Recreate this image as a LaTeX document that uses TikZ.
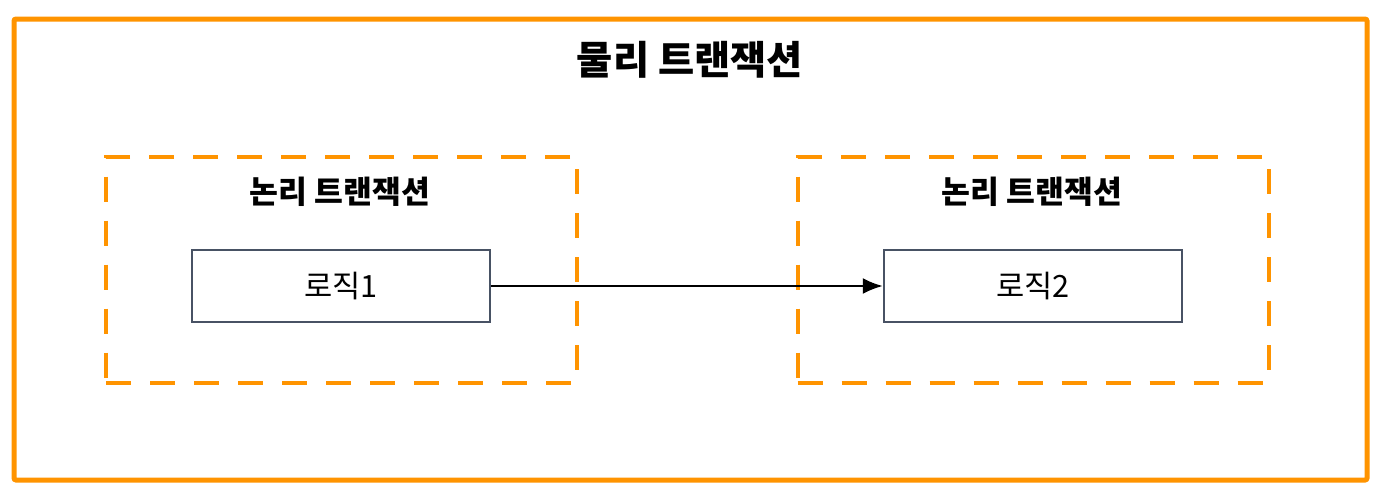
\documentclass[tikz,border=0pt]{standalone}
\usepackage{fontspec}
\setmainfont{Noto Sans CJK KR}
\usetikzlibrary{arrows.meta}
\usetikzlibrary{positioning}
\definecolor{morange}{RGB}{255, 148, 0}
\definecolor{mslate}{RGB}{72, 82, 100}
\tikzset{outerbox/.style = {draw = morange, line width = 3.75pt, rounded corners = 1.5pt,
                            minimum width = 1014.75pt, minimum height = 345.75pt, inner sep = 0}}
\tikzset{txbox/.style = {draw = morange, line width = 3pt, dash pattern = on 18.75pt off 14.25pt,
                         minimum width = 353.25pt, minimum height = 169.5pt, inner sep = 0}}
\tikzset{logicbox/.style = {draw = mslate, line width = 1.8pt, fill = white,
                            minimum width = 223.5pt, minimum height = 54pt, inner sep = 0,
                            font = \fontsize{23}{26}\selectfont}}
\tikzset{txlabel/.style = {font = \fontsize{23.5}{26}\selectfont\bfseries}}

\begin{document}
\begin{tikzpicture}[x = 0.75pt, y = -0.75pt]
    \useasboundingbox (0, 0) rectangle (1381, 494);

    \node [outerbox] (phys) at (690.5, 249.5) {};
    \node [font = \fontsize{29.5}{32}\selectfont\bfseries] (physlabel) at (690, 60) {물리 트랜잭션};

    \node [txbox] (txA) at (341.5, 269.5) {};
    \node [txbox] (txB) at (1033, 269.5) {};

    \node [txlabel] (labelA) at (340, 192) {논리 트랜잭션};
    \node [txlabel] (labelB) at (1032, 192) {논리 트랜잭션};

    \node [logicbox] (logicA) at (341, 286) {로직1};
    \node [logicbox] (logicB) at (1033, 286) {로직2};

    \draw [-{Latex[length = 15pt, width = 12pt]}, line width = 1.7pt] (logicA) -- (logicB);
  \end{tikzpicture}
\end{document}
